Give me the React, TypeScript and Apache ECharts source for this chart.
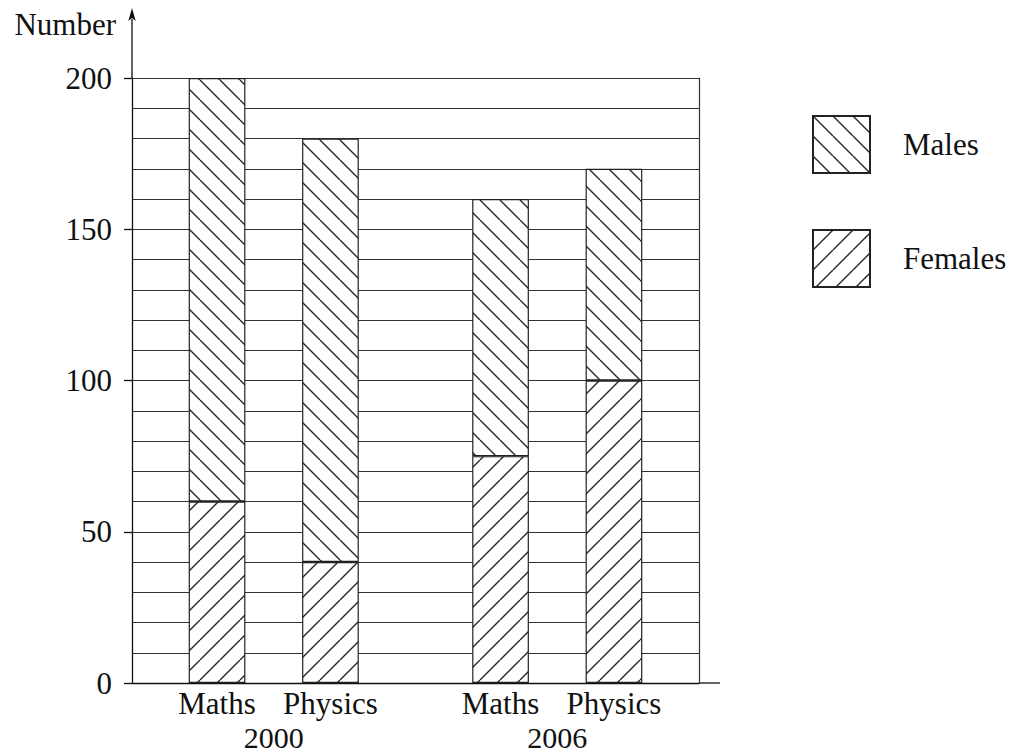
import React, { useEffect, useRef } from "react";
import * as echarts from "echarts";

// ---- data ----
const slots = ["", "Maths", "", "Physics", "", "", "Maths", "", "Physics", ""];
const subjectSlots = [1, 3, 6, 8];
const years = ["2000", "2006"];
const yearPositions = [5, 15]; // on a 21-point half-slot axis
const females = [60, 40, 75, 100];
const males = [140, 140, 85, 70];
const yTickStep = 50;
const yGridStep = 10;
const yMax = 200;

const FONT = "Liberation Serif";
const INK = "#111111";

function makeHatch(forward: boolean) {
  const s = 20;
  const c = document.createElement("canvas");
  c.width = s;
  c.height = s;
  const g = c.getContext("2d")!;
  g.fillStyle = "#ffffff";
  g.fillRect(0, 0, s, s);
  g.strokeStyle = "#2a2a2a";
  g.lineWidth = 1.4;
  for (const k of [-s, 0, s]) {
    g.beginPath();
    if (forward) {
      g.moveTo(k, s);
      g.lineTo(k + s, 0);
    } else {
      g.moveTo(k, 0);
      g.lineTo(k + s, s);
    }
    g.stroke();
  }
  return c;
}

function toSlots(values: number[]) {
  const arr: (number | string)[] = slots.map(() => "-");
  subjectSlots.forEach((s, i) => (arr[s] = values[i]));
  return arr;
}

export default function App() {
  const ref = useRef<HTMLDivElement>(null);
  useEffect(() => {
    if (!ref.current) return;
    const chart = echarts.init(ref.current, undefined, { renderer: "svg" });
    const fwd = makeHatch(true);
    const back = makeHatch(false);
    const yearAxisData = Array.from({ length: 21 }, (_, i) => {
      const k = yearPositions.indexOf(i);
      return k >= 0 ? years[k] : "";
    });
    const textBase = { fontFamily: FONT, fontSize: 31, color: INK };
    chart.setOption({
      animation: false,
      backgroundColor: "#ffffff",
      grid: { left: 132, right: 316, top: 78, bottom: 73, containLabel: false },
      xAxis: [
        {
          type: "category",
          data: slots,
          position: "bottom",
          axisLine: { show: true, onZero: false, lineStyle: { color: INK, width: 1.3 } },
          axisTick: { show: false },
          splitLine: { show: false },
          axisLabel: { ...textBase, interval: 0, margin: 5 },
        },
        {
          type: "category",
          data: yearAxisData,
          boundaryGap: false,
          position: "bottom",
          axisLine: { show: false },
          axisTick: { show: false },
          splitLine: { show: false },
          axisLabel: { ...textBase, fontSize: 30, lineHeight: 26, interval: 0, margin: 41 },
        },
      ],
      yAxis: [
        {
          type: "value",
          min: 0,
          max: yMax,
          interval: yGridStep,
          position: "left",
          axisLine: { show: false },
          axisTick: { show: false },
          axisLabel: { show: false },
          splitLine: { show: true, lineStyle: { color: "#333333", width: 1 } },
        },
        {
          type: "value",
          min: 0,
          max: yMax,
          interval: yTickStep,
          position: "left",
          name: "Number",
          nameLocation: "end",
          nameGap: 38,
          nameTextStyle: { ...textBase, align: "right", verticalAlign: "bottom", padding: [0, 16, 0, 0] },
          axisLine: { show: true, onZero: false, lineStyle: { color: INK, width: 1.3 } },
          axisTick: { show: true, length: 8, lineStyle: { color: INK, width: 1.3 } },
          axisLabel: { ...textBase, margin: 20 },
          splitLine: { show: false },
        },
        {
          type: "value",
          min: 0,
          max: yMax,
          interval: yTickStep,
          position: "right",
          axisLine: { show: true, onZero: false, lineStyle: { color: "#333", width: 1.2 } },
          axisTick: { show: false },
          axisLabel: { show: false },
          splitLine: { show: false },
        },
      ],
      legend: {
        data: ["Males", "Females"],
        orient: "vertical",
        left: 812,
        top: 115,
        padding: 0,
        itemWidth: 57,
        itemHeight: 57,
        itemGap: 55,
        icon: "rect",
        selectedMode: false,
        textStyle: { ...textBase, padding: [0, 0, 0, 28] },
      },
      series: [
        {
          name: "Females",
          type: "bar",
          stack: "total",
          xAxisIndex: 0,
          yAxisIndex: 0,
          barWidth: "100%",
          data: toSlots(females),
          emphasis: { disabled: true },
          itemStyle: {
            color: { image: fwd, repeat: "repeat" },
            borderColor: "#222",
            borderWidth: 1.2,
          },
        },
        {
          name: "Males",
          type: "bar",
          stack: "total",
          xAxisIndex: 0,
          yAxisIndex: 0,
          barWidth: "100%",
          data: toSlots(males),
          emphasis: { disabled: true },
          itemStyle: {
            color: { image: back, repeat: "repeat" },
            borderColor: "#222",
            borderWidth: 1.2,
          },
        },
      ],
      graphic: [
        {
          type: "line",
          shape: { x1: 132, y1: 78, x2: 132, y2: 19 },
          style: { stroke: INK, lineWidth: 1.3 },
        },
        {
          type: "polygon",
          shape: { points: [[132, 8], [128.3, 21], [132, 18], [135.7, 21]] },
          style: { fill: INK },
        },
        {
          type: "line",
          shape: { x1: 699, y1: 683, x2: 720, y2: 683 },
          style: { stroke: INK, lineWidth: 1.3 },
        },
      ],
    });
    return () => chart.dispose();
  }, []);
  return (
    <div
      ref={ref}
      style={{ position: "absolute", left: 0, top: 0, width: 1015, height: 756, background: "#fff" }}
    />
  );
}
